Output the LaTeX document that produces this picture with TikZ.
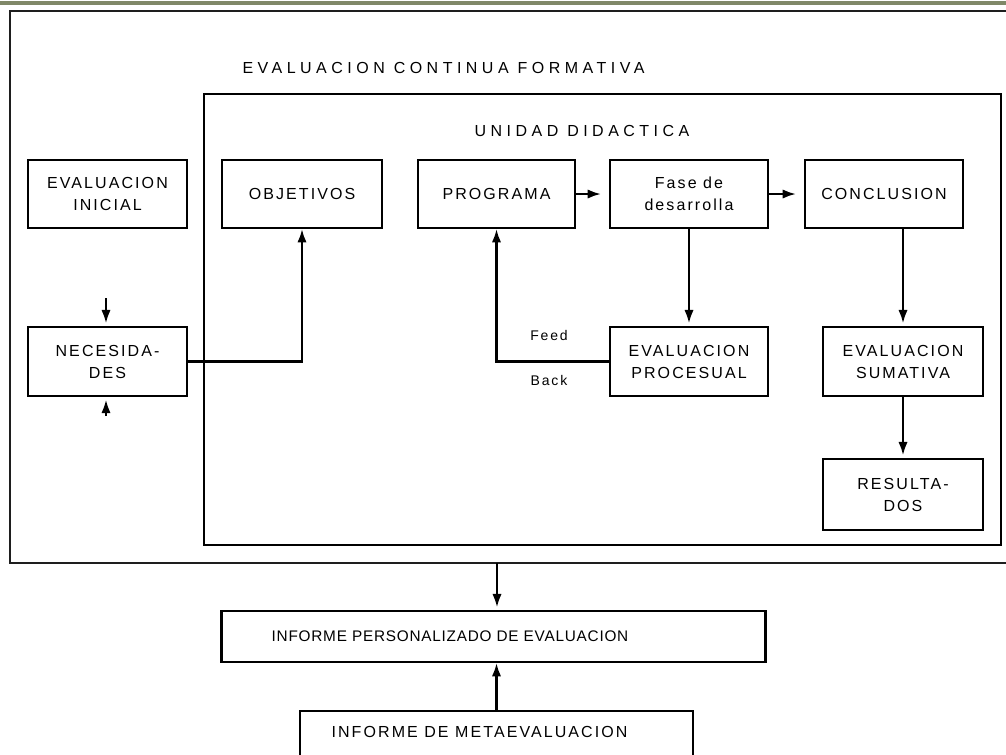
\documentclass[tikz,border=0pt]{standalone}
\usepackage{fontspec}
\usetikzlibrary{arrows.meta}
\newfontfamily\bodyfont{Liberation Sans}[LetterSpace=13]
\newfontfamily\titlefont{Liberation Sans}[LetterSpace=28]
\newfontfamily\tightfont{Liberation Sans}[LetterSpace=5]
\definecolor{barcol}{RGB}{128,136,104}
\definecolor{framecol}{RGB}{30,30,30}
\begin{document}
\begin{tikzpicture}[x=0.75pt,y=-0.75pt,
  box/.style={draw=black, line width=1.6pt, inner sep=0pt, align=center,
    font=\fontsize{12pt}{16.5pt}\selectfont\bodyfont},
  txt/.style={inner sep=0pt, align=center, font=\fontsize{12pt}{16.5pt}\selectfont\bodyfont},
  ttl/.style={inner sep=0pt, font=\fontsize{12pt}{16.5pt}\selectfont\titlefont},
  arr/.style={line width=1.6pt, -{Latex[length=10pt,width=7pt]}, shorten >=2pt}
]
\useasboundingbox (0,0) rectangle (1006,754);
\clip (0,0) rectangle (1006,754);
\fill[white] (0,0) rectangle (1006,754);
\fill[barcol] (0,1) rectangle (1006,5);
% outer frame (open on the right)
\draw[line width=2.2pt, framecol] (1012,11) -- (10,11) -- (10,563) -- (1012,563);
\node[ttl] (t1) at (443.5,68) {EVALUACION CONTINUA FORMATIVA};
% inner frame
\node[draw=black, line width=1.6pt, inner sep=0pt, minimum width=597.75pt, minimum height=338.25pt] (ud) at (602.5,319.5) {};
\node[ttl] (t2) at (582,131) {UNIDAD DIDACTICA};
% boxes
\node[box, minimum width=119.25pt, minimum height=51pt] (ini) at (107.5,194) {EVALUACION\\INICIAL};
\node[box, minimum width=119.25pt, minimum height=51.75pt] (nec) at (107.5,361.5) {NECESIDA-\\DES};
\node[box, minimum width=120pt, minimum height=51pt] (obj) at (302,194) {OBJETIVOS};
\node[box, minimum width=117.75pt, minimum height=51pt] (pro) at (496.5,194) {PROGRAMA};
\node[box, minimum width=118.5pt, minimum height=51pt] (fas) at (689,194) {Fase de\\desarrolla};
\node[box, minimum width=118.5pt, minimum height=51pt] (con) at (884,194) {CONCLUSION};
\node[box, minimum width=118.5pt, minimum height=51.75pt] (evp) at (689,361.5) {EVALUACION\\PROCESUAL};
\node[box, minimum width=120pt, minimum height=51.75pt] (evs) at (903,361.5) {EVALUACION\\SUMATIVA};
\node[box, minimum width=120pt, minimum height=53.25pt] (res) at (903,494.5) {RESULTA-\\DOS};
\node[box, minimum width=408pt, minimum height=38.25pt] (ipe) at (493.5,636.5) {};
\node[txt, font=\fontsize{11.5pt}{16pt}\selectfont\tightfont] (ipet) at (450,636) {INFORME PERSONALIZADO DE EVALUACION};
\node[box, minimum width=294.75pt, minimum height=59.25pt] (ime) at (496.5,750.5) {};
\node[txt] (imet) at (479.5,732) {INFORME DE METAEVALUACION};
\node[txt, font=\fontsize{10.5pt}{14pt}\selectfont\bodyfont] (feed) at (549,335) {Feed};
\node[txt, font=\fontsize{10.5pt}{14pt}\selectfont\bodyfont] (back) at (549,380) {Back};
% connectors
\coordinate (na) at (106,298);
\coordinate (nb) at (106,416);
\draw[arr] (na) -- (nec.north -| na);
\draw[arr] (nb) -- (nec.south -| nb);
\draw[arr, shorten >=0pt] (nec.east) -| (obj.south);
\draw[arr, shorten >=6pt] (pro.east) -- (fas.west);
\draw[arr, shorten >=6pt] (fas.east) -- (con.west);
\draw[arr] (fas.south) -- (evp.north);
\draw[arr, shorten >=0pt] (evp.west) -| (pro.south);
\draw[arr] (con.south -| evs.north) -- (evs.north);
\draw[arr] (evs.south) -- (res.north);
\coordinate (ob) at (497,563);
\draw[arr] (ob) -- (ipe.north -| ob);
\draw[arr, shorten >=0pt] (ime.north) -- (ipe.south -| ime.north);
\end{tikzpicture}
\end{document}
